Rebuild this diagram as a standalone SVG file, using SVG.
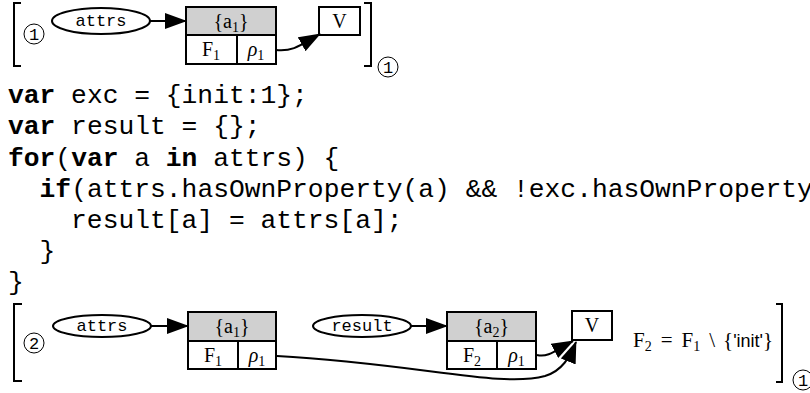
<svg xmlns="http://www.w3.org/2000/svg" width="810" height="393" viewBox="0 0 810 393">
<style>
  .br{fill:none;stroke:#000;stroke-width:2}
  .circ{fill:#fff;stroke:#000;stroke-width:1}
  .cnum{font-family:"Liberation Mono",monospace;font-size:17px;text-anchor:middle;fill:#000}
  .ell{fill:#fff;stroke:#000;stroke-width:2}
  .tt{font-family:"Liberation Mono",monospace;font-size:17px;text-anchor:middle;fill:#000}
  .hdr{fill:#d0d0d0;stroke:#000;stroke-width:2}
  .cell{fill:#fff;stroke:#000;stroke-width:2}
  .rm{font-family:"Liberation Serif",serif;font-size:20px;text-anchor:middle;fill:#000}
  .it{font-style:italic}
  .code{font-family:"Liberation Mono","Courier New",monospace;font-size:26.3px;fill:#000}
  .kw{font-weight:bold}
  .edge{fill:none;stroke:#000;stroke-width:2}
  .math{font-family:"Liberation Serif",serif;font-size:21px;fill:#000}
  .sans{font-family:"Liberation Sans",sans-serif;font-size:18px}
</style>
<defs>
  <marker id="ah" markerUnits="userSpaceOnUse" markerWidth="22" markerHeight="16" viewBox="0 0 22 16" refX="21" refY="8" orient="auto">
    <path d="M0,0 L22,8 L0,16 z" fill="#000"/>
  </marker>
</defs>

<!-- Top state -->
<g id="bracket1-left">
  <path class="br" d="M21,3 H14 V66 H21"/>
  <circle class="circ" cx="34" cy="34" r="10"/>
  <text class="cnum" x="34" y="40">1</text>
</g>
<g id="attrs1">
  <ellipse class="ell" cx="101" cy="21" rx="49" ry="13"/>
  <text class="tt" x="101" y="26">attrs</text>
</g>
<g id="obj1">
  <rect class="hdr" x="186" y="7" width="90" height="28"/>
  <rect class="cell" x="186" y="35" width="51" height="29"/>
  <rect class="cell" x="237" y="35" width="39" height="29"/>
  <text class="rm" x="231" y="28">{a<tspan font-size="14" dy="4">1</tspan><tspan dy="-4">}</tspan></text>
  <text class="rm" x="211" y="56">F<tspan font-size="14" dy="4">1</tspan></text>
  <text class="rm" x="256" y="56"><tspan class="it">ρ</tspan><tspan font-size="14" dy="4">1</tspan></text>
</g>
<g id="V1">
  <rect class="cell" x="319" y="7" width="41" height="28"/>
  <text class="rm" x="339.5" y="28">V</text>
</g>
<g id="bracket1-right">
  <path class="br" d="M364,3 H371 V66 H364"/>
  <circle class="circ" cx="388" cy="67" r="10"/>
  <text class="cnum" x="388" y="73">1</text>
</g>

<!-- Code -->
<g id="code">
  <text class="code" x="8" y="103" xml:space="preserve"><tspan class="kw">var</tspan> exc = {init:1};</text>
  <text class="code" x="8" y="134" xml:space="preserve"><tspan class="kw">var</tspan> result = {};</text>
  <text class="code" x="8" y="165.5" xml:space="preserve"><tspan class="kw">for</tspan>(<tspan class="kw">var</tspan> a <tspan class="kw">in</tspan> attrs) {</text>
  <text class="code" x="39.6" y="196.5" xml:space="preserve"><tspan class="kw">if</tspan>(attrs.hasOwnProperty(a) &amp;&amp; !exc.hasOwnProperty</text>
  <text class="code" x="71.1" y="228" xml:space="preserve">result[a] = attrs[a];</text>
  <text class="code" x="39.6" y="259" xml:space="preserve">}</text>
  <text class="code" x="8" y="290" xml:space="preserve">}</text>
</g>

<!-- Bottom state -->
<g id="bracket2-left">
  <path class="br" d="M22,304 H14 V381 H22"/>
  <circle class="circ" cx="34" cy="343" r="10"/>
  <text class="cnum" x="34" y="349">2</text>
</g>
<g id="attrs2">
  <ellipse class="ell" cx="102" cy="326" rx="49" ry="11"/>
  <text class="tt" x="102" y="331">attrs</text>
</g>
<g id="obj2">
  <rect class="hdr" x="188" y="312" width="88" height="29"/>
  <rect class="cell" x="188" y="341" width="50" height="28"/>
  <rect class="cell" x="238" y="341" width="38" height="28"/>
  <text class="rm" x="232" y="333">{a<tspan font-size="14" dy="4">1</tspan><tspan dy="-4">}</tspan></text>
  <text class="rm" x="213" y="362">F<tspan font-size="14" dy="4">1</tspan></text>
  <text class="rm" x="257" y="362"><tspan class="it">ρ</tspan><tspan font-size="14" dy="4">1</tspan></text>
</g>
<g id="result">
  <ellipse class="ell" cx="362" cy="326" rx="49" ry="11"/>
  <text class="tt" x="362" y="331">result</text>
</g>
<g id="obj3">
  <rect class="hdr" x="447" y="312" width="89" height="29"/>
  <rect class="cell" x="447" y="341" width="50" height="28"/>
  <rect class="cell" x="497" y="341" width="39" height="28"/>
  <text class="rm" x="491.5" y="333">{a<tspan font-size="14" dy="4">2</tspan><tspan dy="-4">}</tspan></text>
  <text class="rm" x="472" y="362">F<tspan font-size="14" dy="4">2</tspan></text>
  <text class="rm" x="516.5" y="362"><tspan class="it">ρ</tspan><tspan font-size="14" dy="4">1</tspan></text>
</g>
<g id="V2">
  <rect class="cell" x="572" y="311" width="40" height="29"/>
  <text class="rm" x="592" y="332">V</text>
</g>
<g id="formula">
  <text class="math" x="633" y="347">F<tspan font-size="14" dy="4">2</tspan><tspan dy="-4" dx="9">=</tspan><tspan dx="9">F</tspan><tspan font-size="14" dy="4">1</tspan><tspan dy="-4" dx="9">\</tspan><tspan dx="8">{</tspan><tspan class="sans">'init'</tspan>}</text>
</g>
<g id="bracket2-right">
  <path class="br" d="M776,304 H782 V382 H776"/>
  <circle class="circ" cx="803" cy="380" r="10"/>
  <text class="cnum" x="803" y="386">1</text>
</g>

<!-- Connectors -->
<g id="connectors">
  <path class="edge" d="M150,21 L186,21" marker-end="url(#ah)"/>
  <path class="edge" d="M276,50 C294,52 302,44 320,34" marker-end="url(#ah)"/>
  <path class="edge" d="M151,326 L188,326" marker-end="url(#ah)"/>
  <path class="edge" d="M411,326 L447,326" marker-end="url(#ah)"/>
  <path class="edge" d="M537,355 C548,358 556,350 573,341" marker-end="url(#ah)"/>
  <path class="edge" d="M277,356 C420,364 500,388 545,376 C562,371 570,357 576,342" marker-end="url(#ah)"/>
</g>
</svg>
